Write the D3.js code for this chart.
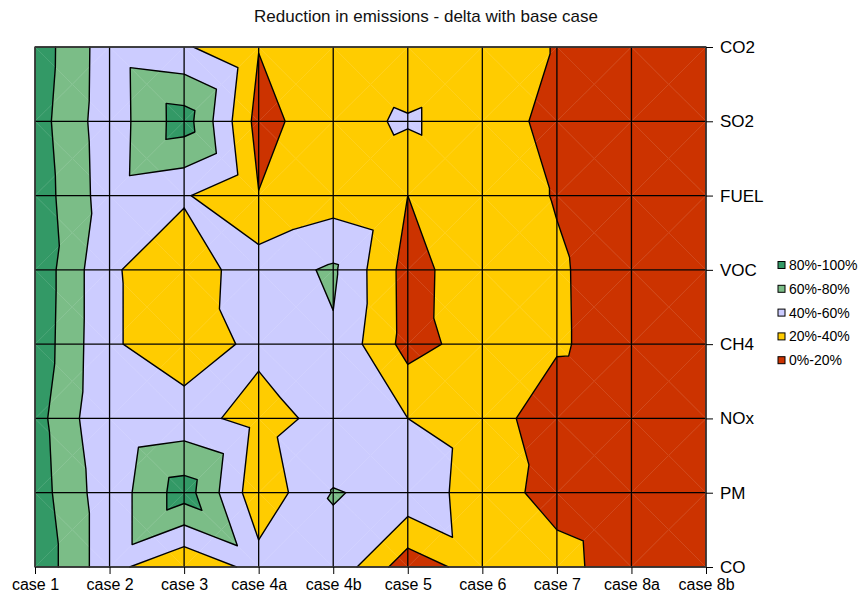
<!DOCTYPE html>
<html>
<head>
<meta charset="utf-8">
<script src="https://cdn.jsdelivr.net/npm/d3@7"></script>
<style>
  body { margin: 0; background: #fff; }
  svg { font-family: Arial, "Liberation Sans", sans-serif; }
</style>
</head>
<body>
<svg id="chart" width="860" height="597"></svg>
<script>
// categories
const cases = ["case 1", "case 2", "case 3", "case 4a", "case 4b", "case 5", "case 6", "case 7", "case 8a", "case 8b"];
const pollutants = ["CO", "PM", "NOx", "CH4", "VOC", "FUEL", "SO2", "CO2"]; // bottom to top

// reduction per pollutant, one value per case (fraction)
const redCO   = [0.95, 0.47, 0.21, 0.48, 0.55, 0.08, 0.30, 0.26, 0.10, 0.06];
const redPM   = [0.90, 0.47, 0.90, 0.26, 0.61, 0.55, 0.28, 0.14, 0.09, 0.05];
const redNOx  = [0.88, 0.41, 0.47, 0.33, 0.46, 0.40, 0.30, 0.08, 0.07, 0.05];
const redCH4  = [0.94, 0.42, 0.31, 0.44, 0.575, 0.125, 0.29, 0.2245, 0.10, 0.06];
const redVOC  = [0.95, 0.42, 0.30, 0.50, 0.63, 0.12, 0.34, 0.2225, 0.10, 0.06];
const redFUEL = [0.92, 0.49, 0.42, 0.206, 0.30, 0.20, 0.30, 0.189, 0.09, 0.05];
const redSO2  = [0.89, 0.48, 0.90, 0.123, 0.34, 0.423, 0.30, 0.14, 0.08, 0.05];
const redCO2  = [0.92, 0.485, 0.427, 0.207, 0.30, 0.21, 0.30, 0.19, 0.09, 0.05];

// bands (low to high) and legend
const bandBreaks = [0, 0.2, 0.4, 0.6, 0.8, 1];
const bandLabels = ["0%-20%", "20%-40%", "40%-60%", "60%-80%", "80%-100%"];
const bandColors = ["#CC3300", "#FFCC00", "#CCCCFF", "#7BBD87", "#339966"];

const grid = [redCO, redPM, redNOx, redCH4, redVOC, redFUEL, redSO2, redCO2];

const svg = d3.select("#chart");

var x = d3.scalePoint().domain(cases).range([35, 706]);
var y = d3.scalePoint().domain(pollutants).range([567, 47]);
// numeric versions of the same scales for interpolated positions
var xi = d3.scaleLinear().domain([0, cases.length - 1]).range(x.range());
var yi = d3.scaleLinear().domain([0, pollutants.length - 1]).range(y.range());

svg.append("text")
  .attr("x", 426).attr("y", 22)
  .attr("text-anchor", "middle")
  .style("font-size", "17px")
  .style("fill", "#111")
  .text("Reduction in emissions - delta with base case");

const plot = svg.append("g");

// every cell is split in 4 triangles around its centre; the centre takes
// the higher of the two diagonal averages (same look as the spreadsheet)
const triangles = [];
for (let j = 0; j < pollutants.length - 1; j++) {
  for (let i = 0; i < cases.length - 1; i++) {
    const p00 = { x: i, y: j, v: grid[j][i] };
    const p10 = { x: i + 1, y: j, v: grid[j][i + 1] };
    const p11 = { x: i + 1, y: j + 1, v: grid[j + 1][i + 1] };
    const p01 = { x: i, y: j + 1, v: grid[j + 1][i] };
    const cv = Math.max((p00.v + p11.v) / 2, (p10.v + p01.v) / 2);
    const c = { x: i + 0.5, y: j + 0.5, v: cv };
    triangles.push([p00, p10, c], [p10, p11, c], [p11, p01, c], [p01, p00, c]);
  }
}

function clip(poly, t, above) {
  const out = [];
  for (let k = 0; k < poly.length; k++) {
    const a = poly[k], b = poly[(k + 1) % poly.length];
    const ina = above ? a.v >= t : a.v <= t;
    const inb = above ? b.v >= t : b.v <= t;
    if (ina) out.push(a);
    if (ina !== inb) {
      const s = (t - a.v) / (b.v - a.v);
      out.push({ x: a.x + s * (b.x - a.x), y: a.y + s * (b.y - a.y), v: t });
    }
  }
  return out;
}

const line = d3.line().x(p => xi(p.x)).y(p => yi(p.y));

triangles.forEach(tri => {
  bandColors.forEach((color, b) => {
    let poly = tri;
    if (b > 0) poly = clip(poly, bandBreaks[b], true);
    if (b < bandColors.length - 1 && poly.length) poly = clip(poly, bandBreaks[b + 1], false);
    if (poly.length < 3) return;
    plot.append("path")
      .attr("d", line(poly) + "Z")
      .attr("fill", color)
      .attr("stroke", color)
      .attr("stroke-width", 0.35);
  });
});

// contour lines
let segs = "";
const levels = bandBreaks.slice(1, -1);
triangles.forEach(tri => {
  levels.forEach(t => {
    const pts = [];
    for (let k = 0; k < 3; k++) {
      const a = tri[k], b = tri[(k + 1) % 3];
      if ((a.v < t) !== (b.v < t)) {
        const s = (t - a.v) / (b.v - a.v);
        pts.push([xi(a.x + s * (b.x - a.x)), yi(a.y + s * (b.y - a.y))]);
      }
    }
    if (pts.length === 2) segs += `M${pts[0][0]},${pts[0][1]}L${pts[1][0]},${pts[1][1]}`;
  });
});
plot.append("path")
  .attr("d", segs)
  .attr("fill", "none")
  .attr("stroke", "#000")
  .attr("stroke-width", 1.4)
  .attr("stroke-linecap", "round")
  .attr("stroke-linejoin", "round");

// grid
plot.selectAll(".vgrid").data(cases).join("line")
  .attr("x1", d => x(d)).attr("x2", d => x(d))
  .attr("y1", 47).attr("y2", 567)
  .attr("stroke", "#000").attr("stroke-width", 1.3);
plot.selectAll(".hgrid").data(pollutants).join("line")
  .attr("y1", d => y(d)).attr("y2", d => y(d))
  .attr("x1", 35).attr("x2", 706)
  .attr("stroke", "#000").attr("stroke-width", 1.3);
plot.append("rect")
  .attr("x", 35).attr("y", 47).attr("width", 671).attr("height", 520)
  .attr("fill", "none").attr("stroke", "#444").attr("stroke-width", 1.3);

// axes
const xAxis = svg.append("g")
  .attr("transform", "translate(0,567)")
  .call(d3.axisBottom(x).tickSize(7).tickPadding(5));
xAxis.select(".domain").remove();
xAxis.selectAll("text").style("font-size", "16px").style("font-family", "Arial, 'Liberation Sans', sans-serif").attr("fill", "#000");

const yAxis = svg.append("g")
  .attr("transform", "translate(706,0)")
  .call(d3.axisRight(y).tickSize(7).tickPadding(7));
yAxis.select(".domain").remove();
yAxis.selectAll("text").style("font-size", "17px").style("font-family", "Arial, 'Liberation Sans', sans-serif").attr("fill", "#000");

// legend (highest band first)
const legend = svg.append("g").attr("transform", "translate(778,265)");
const legItems = legend.selectAll("g").data(d3.range(bandLabels.length).reverse()).join("g")
  .attr("transform", (d, k) => `translate(0,${k * 23.8})`);
legItems.append("rect")
  .attr("x", 0).attr("y", -3.5).attr("width", 7).attr("height", 7)
  .attr("fill", d => bandColors[d]).attr("stroke", "#000").attr("stroke-width", 1);
legItems.append("text")
  .attr("x", 11).attr("y", 5)
  .style("font-size", "14px")
  .text(d => bandLabels[d]);
</script>
</body>
</html>
